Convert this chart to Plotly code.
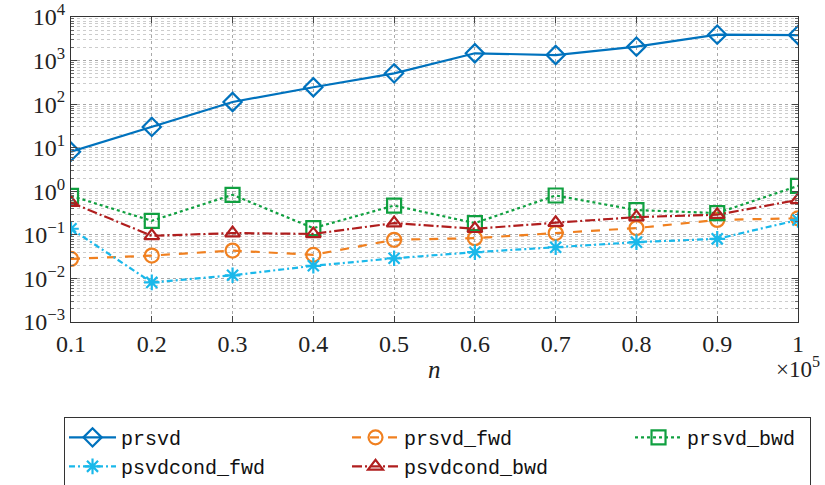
import plotly.graph_objects as go

n_vals = [0.1, 0.2, 0.3, 0.4, 0.5, 0.6, 0.7, 0.8, 0.9, 1.0]

prsvd = [8.1, 30, 112, 244, 510, 1470, 1340, 2090, 3930, 3850]
prsvd_fwd = [0.028, 0.0335, 0.0436, 0.0347, 0.077, 0.084, 0.11, 0.143, 0.22, 0.24]
prsvd_bwd = [0.785, 0.21, 0.83, 0.143, 0.47, 0.186, 0.80, 0.37, 0.316, 1.33]
psvdcond_fwd = [0.138, 0.0081, 0.0118, 0.0195, 0.029, 0.040, 0.052, 0.068, 0.081, 0.22]
psvdcond_bwd = [0.55, 0.095, 0.11, 0.105, 0.186, 0.138, 0.19, 0.255, 0.29, 0.635]

x_ticks = [0.1, 0.2, 0.3, 0.4, 0.5, 0.6, 0.7, 0.8, 0.9, 1.0]
x_ticktext = ["0.1", "0.2", "0.3", "0.4", "0.5", "0.6", "0.7", "0.8", "0.9", "1"]
y_exps = [-3, -2, -1, 0, 1, 2, 3, 4]

BLUE = "#0072BD"
ORANGE = "#F08020"
CYAN = "#1AB8EA"
RED = "#B01E1E"
GREEN = "#10A040"

series = [
    ("prsvd", prsvd, BLUE, "solid", "diamond-open", 14, "A", 221),
    ("prsvd_fwd", prsvd_fwd, ORANGE, "dash", "circle-open", 14, "B", 221),
    ("prsvd_bwd", prsvd_bwd, GREEN, "dot", "square-open", 14, "C", 118),
    ("psvdcond_fwd", psvdcond_fwd, CYAN, "6px,3px,2px,3px", "asterisk-open", 13, "A", 221),
    ("psvdcond_bwd", psvdcond_bwd, RED, "10px,3px,2px,3px", "triangle-up-open", 13, "B", 221),
]

fig = go.Figure()
for name, vals, color, dash, sym, size, grp, lw in series:
    fig.add_trace(go.Scatter(
        x=n_vals, y=vals, name=name, mode="lines+markers",
        line=dict(color=color, width=2.2, dash=dash),
        marker=dict(symbol=sym, size=size, color=color, line=dict(color=color, width=2.2)),
        legendgroup=grp, legendwidth=lw,
    ))

serif = "Liberation Serif"
minor_y = [m * 10.0 ** e for e in range(-3, 4) for m in range(2, 10)]

fig.update_layout(
    width=825, height=485,
    margin=dict(l=71, r=27, t=17, b=163, autoexpand=False),
    paper_bgcolor="white", plot_bgcolor="white",
    font=dict(family=serif, size=23, color="#222"),
    showlegend=True,
    legend=dict(
        orientation="h", traceorder="grouped",
        x=-0.0096, xanchor="left", y=-0.311, yanchor="top",
        bordercolor="#333", borderwidth=1, bgcolor="white",
        font=dict(family="Liberation Mono", size=20, color="#111"),
        itemwidth=47, tracegroupgap=0,
    ),
    xaxis=dict(
        range=[0.1, 1.0], tickmode="array", tickvals=x_ticks, ticktext=x_ticktext,
        ticks="inside", ticklen=6, tickcolor="#444", mirror="allticks",
        showline=True, linecolor="#333", linewidth=1,
        showgrid=True, gridcolor="#a8a8a8", griddash="dot", gridwidth=1,
        zeroline=False, tickfont=dict(family=serif, size=24),
    ),
    yaxis=dict(
        type="log", range=[-3, 4], tickmode="array",
        tickvals=[10.0 ** e for e in y_exps],
        ticktext=["10<sup>" + ("\u2212" + str(-e) if e < 0 else str(e)) + "</sup>" for e in y_exps],
        ticks="inside", ticklen=6, tickcolor="#444", mirror="allticks",
        showline=True, linecolor="#333", linewidth=1,
        showgrid=True, gridcolor="#a8a8a8", griddash="dot", gridwidth=1,
        zeroline=False, tickfont=dict(family=serif, size=24),
        minor=dict(tickmode="array", tickvals=minor_y, ticks="inside", ticklen=3,
                   tickcolor="#666", showgrid=True, gridcolor="#cccccc",
                   griddash="dot", gridwidth=1),
    ),
    annotations=[
        dict(text="<i>n</i>", xref="paper", yref="paper", x=0.5, y=-0.157,
             showarrow=False, font=dict(family=serif, size=25), xanchor="center", yanchor="middle"),
        dict(text="\u00d710<sup>5</sup>", xref="paper", yref="paper", x=1.0, y=-0.15,
             showarrow=False, font=dict(family=serif, size=23), xanchor="center", yanchor="middle"),
    ],
)

fig.write_html("out.html")
